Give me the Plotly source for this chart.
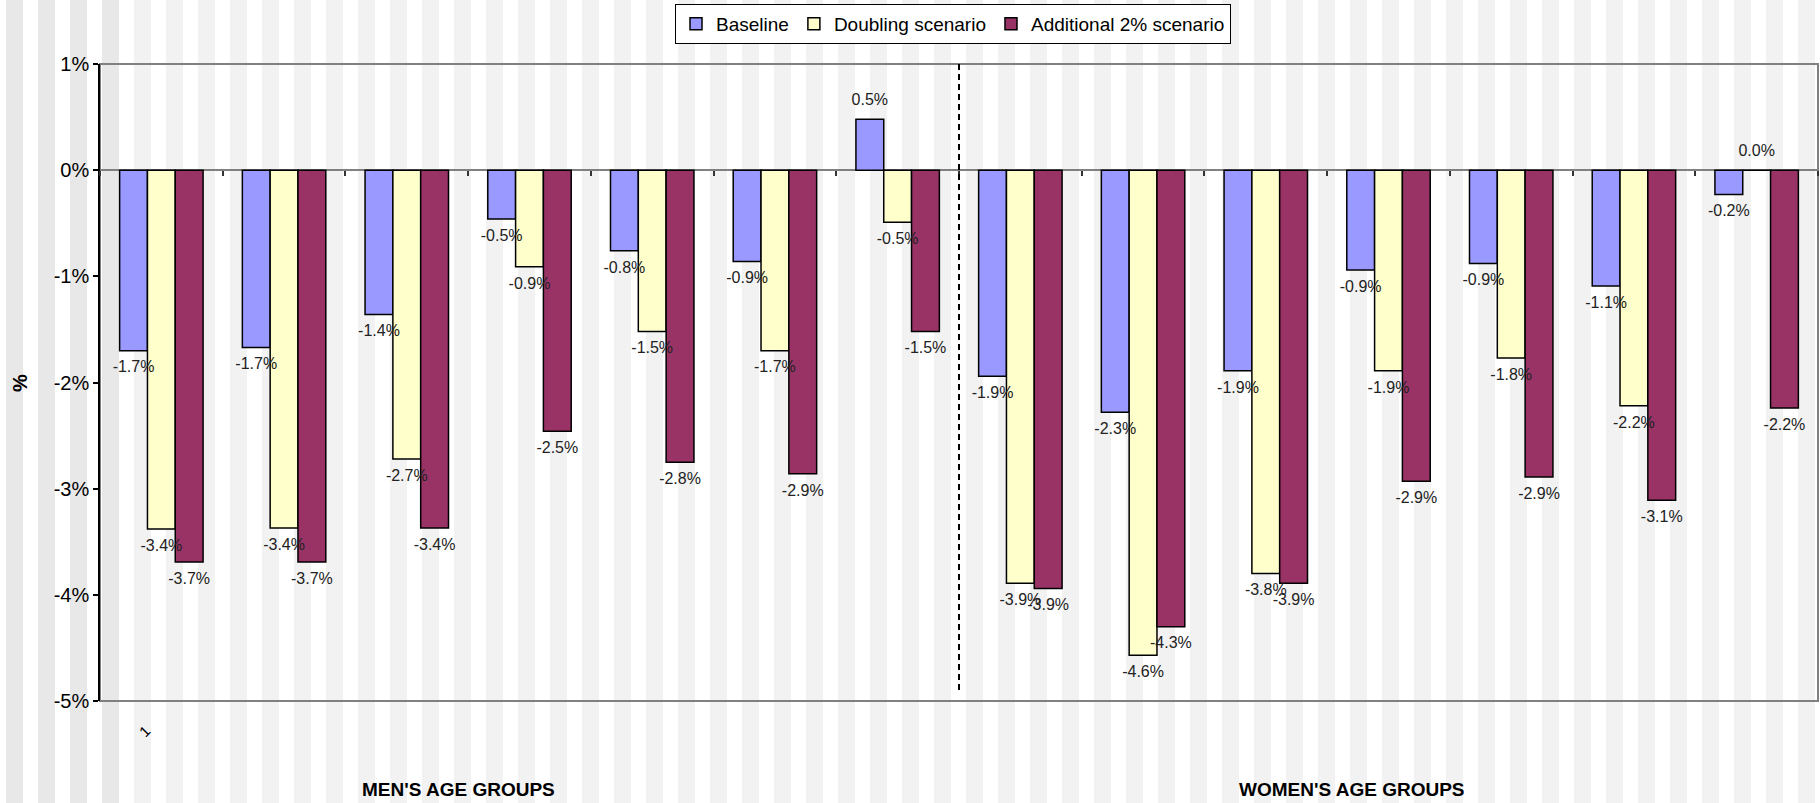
import plotly.graph_objects as go

# ---- data ----
categories = ["Men 1", "Men 2", "Men 3", "Men 4", "Men 5", "Men 6", "Men 7",
              "Women 1", "Women 2", "Women 3", "Women 4", "Women 5", "Women 6", "Women 7"]
baseline = [-1.70, -1.67, -1.36, -0.46, -0.76, -0.86, 0.48,
            -1.94, -2.28, -1.89, -0.94, -0.88, -1.09, -0.23]
doubling = [-3.38, -3.37, -2.72, -0.91, -1.52, -1.70, -0.49,
            -3.89, -4.57, -3.80, -1.89, -1.77, -2.22, 0.0]
additional = [-3.69, -3.69, -3.37, -2.46, -2.75, -2.86, -1.52,
              -3.94, -4.30, -3.89, -2.93, -2.89, -3.11, -2.24]
series_names = ["Baseline", "Doubling scenario", "Additional 2% scenario"]
series_colors = ["#9999FF", "#FFFFCC", "#993366"]
y_tickvals = [1, 0, -1, -2, -3, -4, -5]
y_ticktext = ["1%", "0%", "-1%", "-2%", "-3%", "-4%", "-5%"]
group_titles = ["MEN'S AGE GROUPS", "WOMEN'S AGE GROUPS"]

REG = "Liberation Sans, Arial"

fig = go.Figure()
for i, (name, vals, col) in enumerate(zip(series_names, [baseline, doubling, additional], series_colors)):
    fig.add_trace(go.Bar(
        x=categories, y=vals, name=name,
        marker=dict(color=col, line=dict(color="black", width=1.5)),
        offsetgroup=str(i), alignmentgroup="g",
    ))
for i, vals in enumerate([baseline, doubling, additional]):
    fig.add_trace(go.Scatter(
        x=categories, y=vals, mode="markers+text",
        text=[f"{v:.1f}%" for v in vals],
        textposition=["top center" if v >= 0 else "bottom center" for v in vals],
        marker=dict(size=14, color="rgba(0,0,0,0)"),
        textfont=dict(family=REG, size=16, color="#222222"),
        offsetgroup=str(i), alignmentgroup="g",
        showlegend=False, hoverinfo="skip", cliponaxis=False,
    ))

W, H = 1820, 803
L, R, T, B = 100, 2, 64, 102
pw, ph = W - L - R, H - T - B

def px_x(p):
    return (p - L) / pw

def px_y(p):
    return (H - B - p) / ph

shapes = []
# background stripes
k = 0
while 6 + 32 * k < W:
    x0 = 6 + 32 * k
    col = "#e8e8e8" if x0 < 110 else "#f2f2f2"
    shapes.append(dict(type="rect", xref="paper", yref="paper",
                       x0=px_x(x0), x1=px_x(x0 + 17), y0=px_y(H), y1=px_y(0),
                       fillcolor=col, line=dict(width=0), layer="below"))
    k += 1
# plot frame
shapes.append(dict(type="rect", xref="paper", yref="paper", x0=0, x1=1, y0=0, y1=1,
                   line=dict(color="#808080", width=2), layer="below"))
# dashed separator between men and women
shapes.append(dict(type="line", xref="x", yref="y", x0=6.5, x1=6.5, y0=1, y1=-4.9,
                   line=dict(color="black", width=2, dash="6px,4px"), layer="above"))

annotations = [
    dict(text="<b>" + group_titles[0] + "</b>", xref="paper", yref="paper", x=px_x(458), y=px_y(789),
         showarrow=False, font=dict(family=REG, size=19, color="black"),
         xanchor="center", yanchor="middle"),
    dict(text="<b>" + group_titles[1] + "</b>", xref="paper", yref="paper", x=px_x(1352), y=px_y(789),
         showarrow=False, font=dict(family=REG, size=19, color="black"),
         xanchor="center", yanchor="middle"),
    dict(text="<b>%</b>", xref="paper", yref="paper", x=px_x(20), y=px_y(383),
         showarrow=False, textangle=-90, font=dict(family=REG, size=20, color="black"),
         xanchor="center", yanchor="middle"),
    dict(text="1", xref="paper", yref="paper", x=px_x(144), y=px_y(731),
         showarrow=False, textangle=-45, font=dict(family=REG, size=15, color="black"),
         xanchor="center", yanchor="middle"),
]

fig.update_layout(
    width=W, height=H,
    margin=dict(l=L, r=R, t=T, b=B),
    paper_bgcolor="white", plot_bgcolor="rgba(0,0,0,0)",
    barmode="group", bargap=0.32, bargroupgap=0,
    scattermode="group", scattergap=0.32,
    shapes=shapes, annotations=annotations,
    legend=dict(orientation="h", x=px_x(953), y=px_y(24), xanchor="center", yanchor="middle",
                bgcolor="white", bordercolor="black", borderwidth=1,
                font=dict(family=REG, size=19, color="black"),
                traceorder="normal", itemwidth=30),
    xaxis=dict(type="category", anchor="free", position=5 / 6,
               showticklabels=False, ticks="outside", tickson="boundaries",
               ticklen=5, tickwidth=1.5, tickcolor="#333333",
               showline=False, showgrid=False, zeroline=False),
    yaxis=dict(range=[-5, 1], tickvals=y_tickvals, ticktext=y_ticktext,
               showline=True, linecolor="black", linewidth=1.5,
               ticks="outside", ticklen=5, tickcolor="black", tickwidth=1.5,
               showgrid=False, zeroline=True, zerolinecolor="#808080", zerolinewidth=2,
               tickfont=dict(family=REG, size=20, color="black")),
    showlegend=True,
)

fig.write_html("out.html")
